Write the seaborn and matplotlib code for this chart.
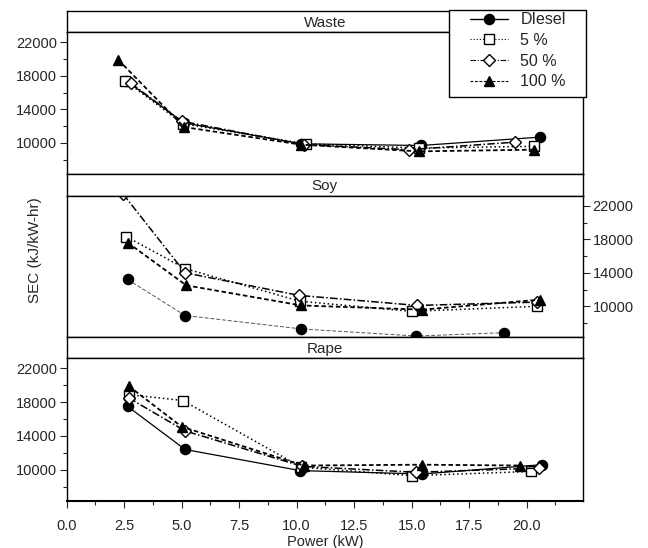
import matplotlib
matplotlib.use("Agg")
import matplotlib.pyplot as plt
import seaborn as sns
from matplotlib.lines import Line2D
from matplotlib.patches import Rectangle
from matplotlib.ticker import FixedLocator, MultipleLocator

# ---- data ----
panel_names = ["Waste", "Soy", "Rape"]
series_labels = ["DIesel", "5 %", "50 %", "100 %"]

waste_diesel_x = [2.6, 5.1, 10.2, 15.4, 20.6]
waste_diesel_y = [17400, 12400, 9900, 9700, 10700]
waste_b5_x = [2.55, 5.05, 10.4, 15.3, 20.3]
waste_b5_y = [17400, 12300, 9900, 9400, 9600]
waste_b50_x = [2.8, 5.0, 10.3, 14.9, 19.5]
waste_b50_y = [17100, 12600, 9800, 9200, 10100]
waste_b100_x = [2.25, 5.1, 10.2, 15.3, 20.3]
waste_b100_y = [19900, 11900, 9800, 9000, 9200]

soy_diesel_x = [2.65, 5.15, 10.2, 15.2, 19.0]
soy_diesel_y = [13200, 8900, 7300, 6450, 6850]
soy_b5_x = [2.6, 5.15, 10.15, 15.0, 20.45]
soy_b5_y = [18300, 14500, 10600, 9400, 10000]
soy_b50_x = [2.45, 5.15, 10.1, 15.25, 20.45]
soy_b50_y = [23400, 14000, 11300, 10100, 10500]
soy_b100_x = [2.65, 5.2, 10.2, 15.45, 20.6]
soy_b100_y = [17600, 12500, 10100, 9600, 10800]

rape_diesel_x = [2.65, 5.15, 10.15, 15.45, 20.65]
rape_diesel_y = [17500, 12400, 9900, 9500, 10600]
rape_b5_x = [2.7, 5.05, 10.2, 15.0, 20.2]
rape_b5_y = [18900, 18200, 10300, 9300, 9800]
rape_b50_x = [2.7, 5.15, 10.25, 15.2, 20.55]
rape_b50_y = [18500, 14600, 10400, 9700, 10200]
rape_b100_x = [2.7, 5.0, 10.3, 15.45, 19.7]
rape_b100_y = [19900, 15100, 10500, 10600, 10500]

y_ticks = [10000, 14000, 18000, 22000]
x_ticks = [0.0, 2.5, 5.0, 7.5, 10.0, 12.5, 15.0, 17.5, 20.0]

panels = [
    [(waste_diesel_x, waste_diesel_y), (waste_b5_x, waste_b5_y),
     (waste_b50_x, waste_b50_y), (waste_b100_x, waste_b100_y)],
    [(soy_diesel_x, soy_diesel_y), (soy_b5_x, soy_b5_y),
     (soy_b50_x, soy_b50_y), (soy_b100_x, soy_b100_y)],
    [(rape_diesel_x, rape_diesel_y), (rape_b5_x, rape_b5_y),
     (rape_b50_x, rape_b50_y), (rape_b100_x, rape_b100_y)],
]

sns.set_style("ticks")
plt.rcParams["font.family"] = ["Liberation Sans", "DejaVu Sans"]

W, H = 648, 548
fig = plt.figure(figsize=(W / 100, H / 100), dpi=100)

# line styles per series
styles = [
    dict(linestyle="-", lw=0.9, marker="o", ms=7.3, mfc="black"),
    dict(linestyle=(0, (1, 1.8)), lw=1.1, marker="s", ms=7, mfc="white"),
    dict(linestyle=(0, (5, 1.5, 1, 1.5)), lw=1.1, marker="D", ms=6, mfc="white"),
    dict(linestyle=(0, (2.5, 1.5)), lw=1.3, marker="^", ms=7.5, mfc="black"),
]

left_px, right_px = 66.7, 583
strip_tops = [11, 174, 337.3]
strip_bots = [32.3, 195.7, 358.3]
panel_bots = [174, 337.3, 501]


def fx(px):
    return px / W


def fy(py):
    return 1 - py / H


for i, name in enumerate(panel_names):
    # strip header
    sax = fig.add_axes([fx(left_px), fy(strip_bots[i]), fx(right_px - left_px),
                        (strip_bots[i] - strip_tops[i]) / H])
    sax.set_xticks([])
    sax.set_yticks([])
    for sp in sax.spines.values():
        sp.set_linewidth(1.0)
        sp.set_color("black")
    sax.text(0.5, 0.45, name, ha="center", va="center", fontsize=11,
             transform=sax.transAxes)

    ax = fig.add_axes([fx(left_px), fy(panel_bots[i]), fx(right_px - left_px),
                       (panel_bots[i] - strip_bots[i]) / H])
    for j, (xs, ys) in enumerate(panels[i]):
        st = dict(styles[j])
        color = "black"
        if i == 1 and j == 0:
            st["linestyle"] = (0, (4, 2))
            st["lw"] = 0.7
            color = "#555555"
        sns.lineplot(x=xs, y=ys, ax=ax, color=color, linestyle=st["linestyle"],
                     linewidth=st["lw"], marker=st["marker"], markersize=st["ms"],
                     markerfacecolor=st["mfc"], markeredgecolor="black",
                     markeredgewidth=1.0, estimator=None, sort=False, legend=False)
    ax.set_xlim(0, 22.45)
    ax.set_ylim(6300, 23200)
    for sp in ax.spines.values():
        sp.set_visible(True)
        sp.set_linewidth(1.0)
        sp.set_color("black")
    ax.yaxis.set_major_locator(FixedLocator(y_ticks))
    ax.yaxis.set_minor_locator(MultipleLocator(2000))
    ax.set_yticklabels([str(v) for v in y_ticks])
    ax.tick_params(axis="y", which="major", length=5, width=0.8, labelsize=10.5, pad=2)
    ax.tick_params(axis="y", which="minor", length=3, width=0.8)
    if i == 1:
        ax.yaxis.tick_right()
    else:
        ax.yaxis.tick_left()
    ax.set_xlabel("")
    ax.set_ylabel("")
    if i == 2:
        ax.xaxis.set_major_locator(FixedLocator(x_ticks))
        ax.xaxis.set_minor_locator(MultipleLocator(1.25))
        ax.set_xticklabels([f"{v:.1f}" for v in x_ticks])
        ax.tick_params(axis="x", which="major", length=5, width=0.8, labelsize=10.5, pad=8)
        ax.tick_params(axis="x", which="minor", length=3, width=0.8)
        ax.spines["bottom"].set_linewidth(1.5)
    else:
        ax.set_xticks([])

fig.text(fx(325), fy(542), "Power (kW)", ha="center", va="center", fontsize=10.5)
fig.text(fx(35), fy(250), "SEC (kJ/kW-hr)", ha="center", va="center",
         rotation=90, fontsize=11)

# legend
fig.patches.append(Rectangle((fx(449), fy(97)), fx(586 - 449), (97 - 10) / H,
                             transform=fig.transFigure, facecolor="white",
                             edgecolor="black", linewidth=1.0, zorder=4))
handles = []
for j, st in enumerate(styles):
    handles.append(Line2D([], [], color="black", linestyle=st["linestyle"],
                          linewidth=0.8 if j else 1.0, marker=st["marker"],
                          markersize=st["ms"], markerfacecolor=st["mfc"],
                          markeredgecolor="black", markeredgewidth=1.0))
leg = fig.legend(handles, series_labels, loc="upper left",
                 bbox_to_anchor=(fx(470), fy(12.5)), frameon=False,
                 fontsize=11.5, handlelength=2.4, handletextpad=0.75,
                 labelspacing=0.35, borderpad=0, borderaxespad=0)
leg.set_zorder(5)

fig.savefig("out.png", dpi=100)
